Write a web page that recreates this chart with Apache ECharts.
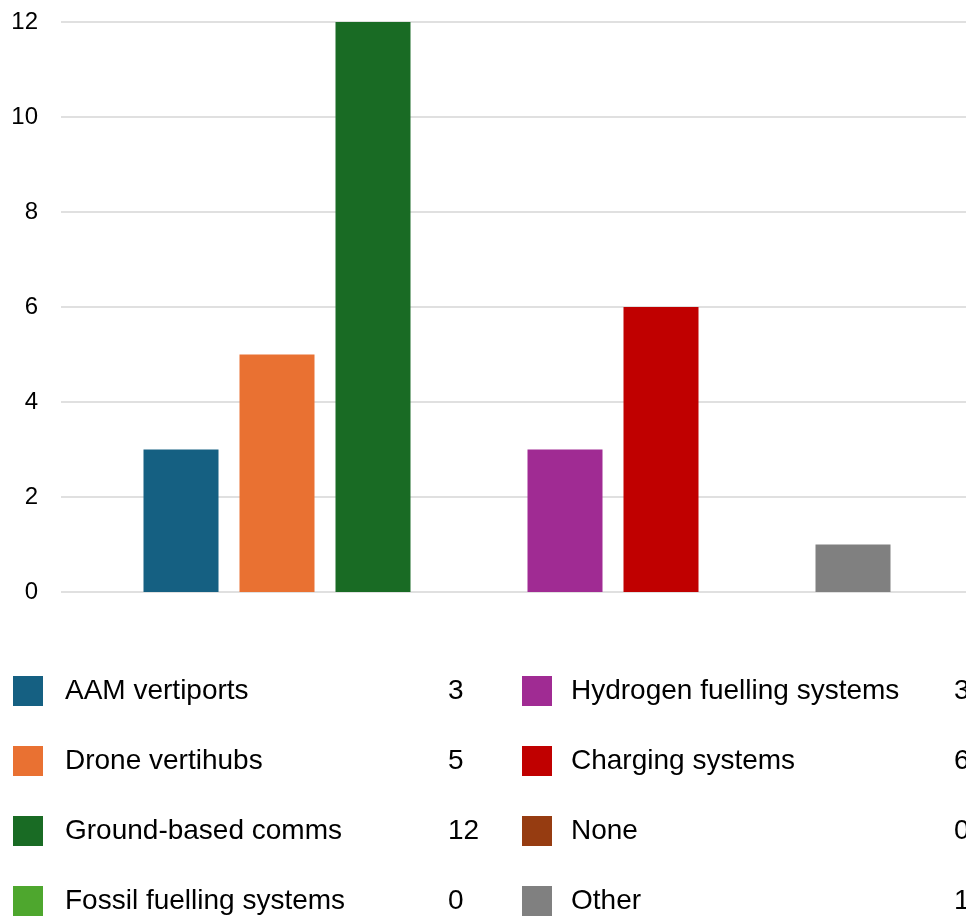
<!DOCTYPE html>
<html>
<head>
<meta charset="utf-8">
<style>
  html, body { margin: 0; padding: 0; background: #ffffff; }
  #chart { width: 966px; height: 918px; }
</style>
<script src="https://cdn.jsdelivr.net/npm/echarts@6/dist/echarts.min.js"></script>
</head>
<body>
<div id="chart"></div>
<script>
// Infrastructure types and their counts
const categories = [
  'AAM vertiports',
  'Drone vertihubs',
  'Ground-based comms',
  'Fossil fuelling systems',
  'Hydrogen fuelling systems',
  'Charging systems',
  'None',
  'Other'
];
const values = [3, 5, 12, 0, 3, 6, 0, 1];
const colors = ['#156082', '#E97132', '#196B24', '#4EA72E', '#A02B93', '#C00000', '#963C11', '#808080'];
const yTicks = [0, 2, 4, 6, 8, 10, 12];

const FONT = '"Liberation Sans", Arial, sans-serif';
const valueOf = {};
categories.forEach((c, i) => { valueOf[c] = values[i]; });

function legendColumn(left, textGap, names) {
  return {
    orient: 'vertical',
    left: left,
    top: 676,
    padding: 0,
    icon: 'rect',
    itemWidth: 30,
    itemHeight: 30,
    itemGap: 40,
    selectedMode: false,
    data: names,
    formatter: name => '{n|' + name + '}{v|' + valueOf[name] + '}',
    textStyle: {
      fontFamily: FONT,
      fontSize: 28,
      color: '#000',
      padding: [0, 0, 0, textGap],
      rich: {
        n: { width: 383, fontFamily: FONT, fontSize: 28, color: '#000', lineHeight: 30 },
        v: { width: 40, fontFamily: FONT, fontSize: 28, color: '#000', lineHeight: 30 }
      }
    }
  };
}

const yMin = yTicks[0];
const yMax = yTicks[yTicks.length - 1];

const chart = echarts.init(document.getElementById('chart'), null, { renderer: 'canvas' });
chart.setOption({
  animation: false,
  backgroundColor: '#ffffff',
  // grid 0 carries the value labels and gridlines, grid 1 holds the bar group
  grid: [
    { left: 61, right: 0, top: 22, bottom: 326, containLabel: false },
    { left: 68, right: 0, top: 22, bottom: 326, containLabel: false }
  ],
  legend: [
    legendColumn(13, 17, categories.slice(0, 4)),
    legendColumn(522, 14, categories.slice(4))
  ],
  xAxis: [
    { gridIndex: 0, type: 'category', data: [''], show: false },
    { gridIndex: 1, type: 'category', data: [''], show: false }
  ],
  yAxis: [
    {
      gridIndex: 0,
      type: 'value',
      min: yMin,
      max: yMax,
      interval: 2,
      axisLine: { show: false },
      axisTick: { show: false },
      axisLabel: { fontFamily: FONT, fontSize: 24, color: '#000', margin: 23 },
      splitLine: { lineStyle: { color: '#d6d6d6', width: 1.6 } }
    },
    {
      gridIndex: 1,
      type: 'value',
      min: yMin,
      max: yMax,
      interval: 2,
      show: false,
      splitLine: { show: false }
    }
  ],
  series: categories.map((name, i) => ({
    name: name,
    type: 'bar',
    xAxisIndex: 1,
    yAxisIndex: 1,
    data: [values[i]],
    barWidth: 75,
    barGap: '28%',
    itemStyle: { color: colors[i] }
  }))
});
</script>
</body>
</html>
